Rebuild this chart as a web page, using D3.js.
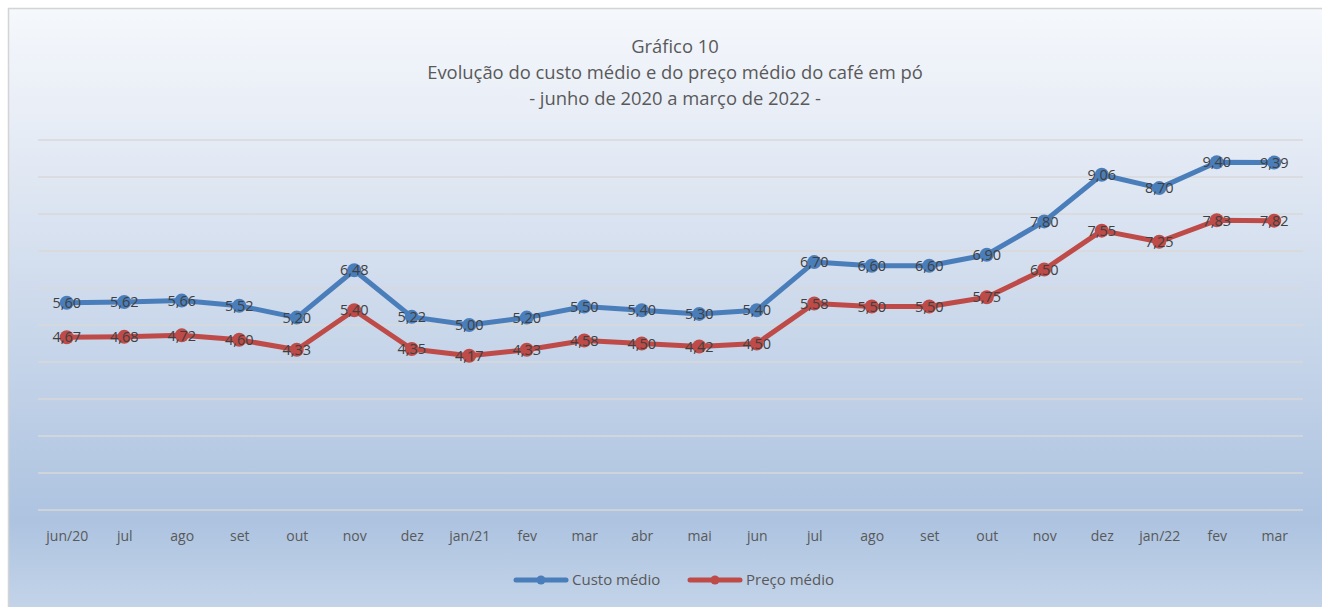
<!DOCTYPE html>
<html><head><meta charset="utf-8">
<script src="https://cdn.jsdelivr.net/npm/d3@7"></script>
<style>
html,body{margin:0;padding:0;background:#fff;}
svg{display:block;}
text{font-family:"Open Sans","Noto Sans",sans-serif;}
</style></head>
<body>
<svg id="chart" width="1322" height="607"></svg>
<script>
const categories = ["jun/20","jul","ago","set","out","nov","dez","jan/21","fev","mar","abr","mai","jun","jul","ago","set","out","nov","dez","jan/22","fev","mar"];
const custoMedio = [5.60,5.62,5.66,5.52,5.20,6.48,5.22,5.00,5.20,5.50,5.40,5.30,5.40,6.70,6.60,6.60,6.90,7.80,9.06,8.70,9.40,9.39];
const precoMedio = [4.67,4.68,4.72,4.60,4.33,5.40,4.35,4.17,4.33,4.58,4.50,4.42,4.50,5.58,5.50,5.50,5.75,6.50,7.55,7.25,7.83,7.82];
const yTicks = [0,1,2,3,4,5,6,7,8,9,10];
const titleLines = ["Gráfico 10","Evolução do custo médio e do preço médio do café em pó","- junho de 2020 a março de 2022 -"];
const seriesNames = ["Custo médio","Preço médio"];

const svg = d3.select("#chart");
const defs = svg.append("defs");
const grad = defs.append("linearGradient").attr("id","bg").attr("x1",0).attr("y1",0).attr("x2",0).attr("y2",1);
grad.append("stop").attr("offset","0%").attr("stop-color","#f5f8fc");
grad.append("stop").attr("offset","22%").attr("stop-color","#e5ebf5");
grad.append("stop").attr("offset","84%").attr("stop-color","#adc3e0");
grad.append("stop").attr("offset","100%").attr("stop-color","#c6d6ea");

svg.append("rect").attr("x",8.5).attr("y",8.5).attr("width",1330).attr("height",610)
  .attr("fill","url(#bg)").attr("stroke","#d4d4d4").attr("stroke-width",1.5);

const x = d3.scalePoint().domain(d3.range(categories.length)).range([38,1303]).padding(0.5);
const y = d3.scaleLinear().domain([0,10]).range([510,140]);

// gridlines
svg.append("g").selectAll("line").data(yTicks).join("line")
  .attr("x1",38).attr("x2",1303).attr("y1",d=>y(d)).attr("y2",d=>y(d))
  .attr("stroke","#d9d9d9").attr("stroke-width",1.5);

// x axis labels
const xAxis = d3.axisBottom(x).tickFormat(i=>categories[i]).tickSize(0).tickPadding(21);
const gx = svg.append("g").attr("transform","translate(0,510)").call(xAxis);
gx.select(".domain").remove();
gx.selectAll("text").attr("fill","#595959").style("font-size","14px").style("font-family","'Open Sans','Noto Sans',sans-serif");

// title
svg.append("g").selectAll("text").data(titleLines).join("text")
  .attr("x",675).attr("y",(d,i)=>52.5+i*26).attr("text-anchor","middle")
  .attr("fill","#595959").style("font-size","18.4px").text(d=>d);

const series = [
  {name:seriesNames[0], values:custoMedio, color:"#4a7ebb"},
  {name:seriesNames[1], values:precoMedio, color:"#be4b48"}
];
const line = d3.line().x((d,i)=>x(i)).y(d=>y(d));
const fmt = v => d3.format(".2f")(v).replace(".",",");

series.forEach(s=>{
  const g = svg.append("g");
  g.append("path").datum(s.values).attr("d",line).attr("fill","none")
    .attr("stroke",s.color).attr("stroke-width",5).attr("stroke-linejoin","round").attr("stroke-linecap","round");
  g.selectAll("circle").data(s.values).join("circle")
    .attr("cx",(d,i)=>x(i)).attr("cy",d=>y(d)).attr("r",7).attr("fill",s.color);
});
series.forEach(s=>{
  svg.append("g").selectAll("text").data(s.values).join("text")
    .attr("x",(d,i)=>x(i)).attr("y",d=>y(d)).attr("dy","0.36em").attr("text-anchor","middle")
    .attr("fill","#404040").style("font-size","14.5px").text(d=>fmt(d));
});

// legend
const legend = svg.append("g");
const legItems = [{x:513, s:series[0]},{x:687, s:series[1]}];
legItems.forEach(it=>{
  legend.append("line").attr("x1",it.x+3).attr("x2",it.x+53).attr("y1",580).attr("y2",580)
    .attr("stroke",it.s.color).attr("stroke-width",5).attr("stroke-linecap","round");
  legend.append("circle").attr("cx",it.x+28).attr("cy",580).attr("r",4.5).attr("fill",it.s.color);
  legend.append("text").attr("x",it.x+59).attr("y",580).attr("dy","0.36em")
    .attr("fill","#595959").style("font-size","15px").text(it.s.name);
});
</script>
</body></html>
